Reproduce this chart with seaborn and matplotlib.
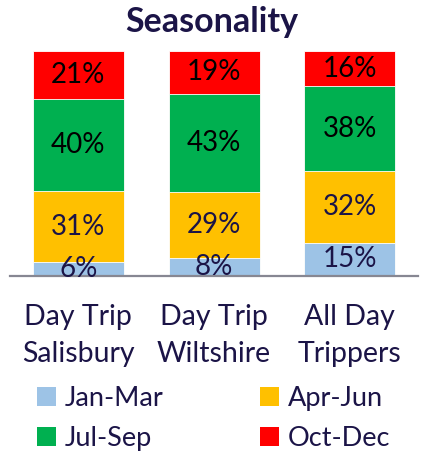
import numpy as np
import pandas as pd
import matplotlib
matplotlib.use("Agg")
import matplotlib.pyplot as plt
from matplotlib.patches import Patch
import seaborn as sns

# Share of day trips by quarter
categories = ["Day Trip\nSalisbury", "Day Trip\nWiltshire", "All Day\nTrippers"]
quarters = ["Jan-Mar", "Apr-Jun", "Jul-Sep", "Oct-Dec"]
jan_mar = [6, 8, 15]
apr_jun = [31, 29, 32]
jul_sep = [40, 43, 38]
oct_dec = [21, 19, 16]

colors = {"Jan-Mar": "#9DC3E6", "Apr-Jun": "#FFC000",
          "Jul-Sep": "#00B050", "Oct-Dec": "#FF0000"}
label_colors = {"Jan-Mar": "#1B1447", "Apr-Jun": "#1B1447",
                "Jul-Sep": "#000000", "Oct-Dec": "#000000"}
navy = "#1B1447"

sns.set_theme(style="white")
plt.rcParams["font.family"] = ["Lato", "DejaVu Sans"]

values = pd.DataFrame({"category": categories, "Jan-Mar": jan_mar,
                       "Apr-Jun": apr_jun, "Jul-Sep": jul_sep,
                       "Oct-Dec": oct_dec})
totals = values[quarters].sum(axis=1)
shares = values[quarters].div(totals, axis=0) * 100
cum = shares.cumsum(axis=1)

fig = plt.figure(figsize=(4.23, 4.55), dpi=100)
ax = fig.add_axes([0.0248, 0.3934, 0.9628, 0.4952])

# Stacked bars: draw cumulative totals from the top layer down
for q in reversed(quarters):
    sns.barplot(x=values["category"], y=cum[q], color=colors[q],
                width=0.67, ax=ax, edgecolor="white", linewidth=0.6,
                saturation=1)

# Segment labels
for i in range(len(categories)):
    for q in quarters:
        top = cum.loc[i, q]
        mid = top - shares.loc[i, q] / 2
        ax.text(i, mid, f"{values.loc[i, q]}%", ha="center", va="center",
                fontsize=20, color=label_colors[q])

ax.set_xlim(-0.5, 2.5)
ax.set_ylim(0, 100)
ax.set_xlabel("")
ax.set_ylabel("")
ax.set_yticks([])
for s in ["top", "right", "left"]:
    ax.spines[s].set_visible(False)
ax.spines["bottom"].set_color("#878792")
ax.spines["bottom"].set_linewidth(1.6)
ax.tick_params(axis="x", length=0, pad=20, labelsize=20.5, labelcolor=navy)
for lbl in ax.get_xticklabels():
    lbl.set_linespacing(1.55)

fig.text(0.5, 0.951, "Seasonality", ha="center", va="center",
         fontsize=24.5, fontweight="bold", color=navy)

handles = [Patch(facecolor=colors[q], edgecolor="none", label=q) for q in quarters]
order = [0, 2, 1, 3]
fig.legend([handles[k] for k in order], [quarters[k] for k in order],
           ncol=2, loc="center", bbox_to_anchor=(0.505, 0.081),
           frameon=False, fontsize=19.5, labelcolor=navy,
           handlelength=0.7, handleheight=0.7, handletextpad=0.3,
           columnspacing=3.6, labelspacing=0.55)

fig.savefig("out.png", dpi=100)
